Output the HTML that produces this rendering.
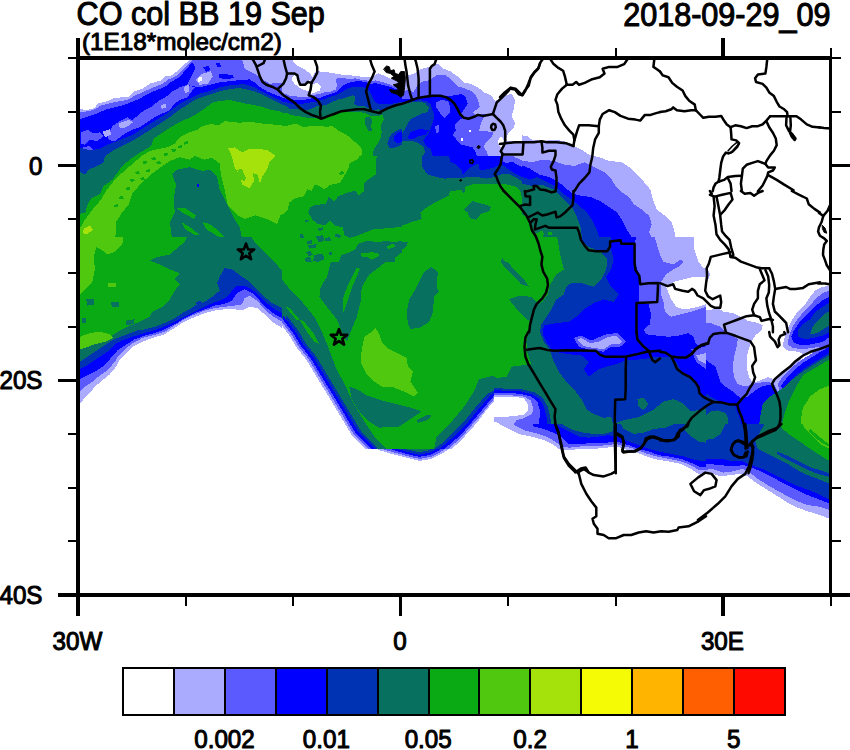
<!DOCTYPE html>
<html lang="en">
<head>
<meta charset="utf-8">
<title>CO col BB 19 Sep</title>
<style>
html,body{margin:0;padding:0;background:#fff;}
body{width:850px;height:750px;overflow:hidden;font-family:"Liberation Sans",sans-serif;}
svg{display:block;}
</style>
</head>
<body>
<svg width="850" height="750" viewBox="0 0 850 750">
<rect x="0" y="0" width="850" height="750" fill="#ffffff"/>
<defs><clipPath id="plotclip"><rect x="78.0" y="58.0" width="752.5" height="537.0"/></clipPath></defs>
<g clip-path="url(#plotclip)">
<clipPath id="t0"><rect x="70" y="50" width="212" height="187"/></clipPath>
<g clip-path="url(#t0)" shape-rendering="crispEdges">
<polygon fill="#aaaaff" points="65.0,109.9 81.2,109.4 87.5,109.9 94.9,107.9 97.4,103.6 107.4,101.1 114.9,97.9 128.6,96.9 134.8,91.2 142.3,88.7 149.8,83.7 161.0,80.4 164.8,76.2 172.3,75.4 179.7,68.7 185.2,63.7 191.0,59.0 294.5,59.0 294.5,249.5 65.0,249.5"/>
<polygon fill="#5a5aff" points="65.0,112.9 81.2,112.4 93.7,109.9 101.2,105.4 113.6,102.4 127.4,99.9 135.3,95.4 144.8,91.2 152.3,87.9 162.8,83.7 168.5,79.4 176.0,76.2 182.2,70.5 187.2,65.5 193.5,59.0 294.5,59.0 294.5,249.5 65.0,249.5"/>
<polygon fill="#0000ff" points="65.0,120.3 80.0,119.3 87.5,116.8 94.9,114.3 104.9,109.9 112.4,107.9 119.9,106.1 127.4,103.6 133.6,101.1 139.8,98.6 144.8,95.4 152.3,91.9 157.3,89.9 164.8,86.9 169.8,82.9 174.8,79.9 179.7,76.9 183.5,72.4 187.2,68.7 189.7,65.0 192.7,62.5 195.2,68.0 191.0,77.4 187.2,84.9 199.7,87.4 209.7,84.9 219.6,82.4 229.6,81.2 242.1,79.9 249.6,79.4 254.6,82.4 259.6,86.9 267.0,91.4 282.0,97.4 294.5,98.6 294.5,249.5 65.0,249.5"/>
<polygon fill="#5a5aff" points="107.4,137.8 112.4,126.1 119.9,121.1 127.4,117.3 132.4,120.3 141.1,112.4 152.3,106.1 159.8,99.9 167.3,96.1 172.3,91.2 179.7,87.4 187.2,84.9 194.7,87.4 187.2,97.4 179.7,99.9 174.8,103.6 169.8,109.9 162.3,113.6 154.8,117.3 147.3,122.3 139.8,127.3 132.4,129.8 124.9,133.6 119.9,137.3 114.9,141.0 109.9,140.3"/>
<polygon fill="#5a5aff" points="81.2,132.3 87.5,129.8 93.7,133.6 99.9,132.3 103.7,136.0 97.4,141.0 90.0,139.8 85.0,144.8 81.2,143.5"/>
<polygon fill="#5a5aff" points="82.5,147.3 90.0,146.0 93.7,149.8 87.5,154.8 82.5,153.5"/>
<polygon fill="#0000ff" points="203.4,67.5 208.4,65.5 210.2,70.0 205.9,71.9"/>
<polygon fill="#0000ff" points="215.9,63.0 219.6,62.5 220.9,66.5 217.2,67.0"/>
<polygon fill="#0000ff" points="219.6,73.7 232.1,74.9 234.6,77.9 224.6,79.4 219.1,77.4"/>
<polygon fill="#aaaaff" points="196.0,79.9 202.2,73.7 210.9,71.4 212.7,76.9 207.7,83.7 199.7,84.9"/>
<polygon fill="#aaaaff" points="242.1,59.0 294.5,59.0 294.5,81.9 269.5,83.7 263.3,79.9 254.6,73.7 244.6,68.7"/>
<polygon fill="#aaaaff" points="118.6,123.6 128.6,119.8 132.9,122.3 126.1,127.3 119.9,128.6"/>
<polygon fill="#aaaaff" points="102.4,131.8 109.9,129.3 111.2,134.8 104.9,137.3"/>
<polygon fill="#aaaaff" points="183.5,87.4 188.5,84.9 189.2,91.2 185.2,93.6"/>
<polygon fill="#aaaaff" points="161.0,105.4 166.0,103.6 166.0,107.9 161.8,108.9"/>
<polygon fill="#ffffff" points="197.7,77.9 202.2,76.9 201.7,81.2 198.2,81.7"/>
<polygon fill="#0032b4" points="65.0,148.5 80.0,147.8 90.0,150.3 99.9,148.8 107.4,144.8 119.9,139.8 132.4,134.8 144.8,127.3 152.3,122.3 164.8,114.8 174.8,107.4 179.7,103.6 189.7,98.6 199.7,93.6 209.7,91.2 219.6,87.4 232.1,84.9 244.6,84.2 254.6,87.4 264.5,92.9 282.0,101.1 294.5,102.4 294.5,249.5 65.0,249.5"/>
<polygon fill="#08705f" points="65.0,172.7 80.0,172.2 85.0,174.7 88.7,169.7 97.4,166.0 103.7,162.2 104.9,156.0 112.4,151.0 122.4,146.0 132.4,141.0 142.3,134.8 152.3,128.6 162.3,122.3 169.8,117.3 177.2,111.1 187.2,104.9 194.7,99.9 204.7,96.1 214.7,92.9 224.6,89.9 239.6,87.9 254.6,91.2 267.0,96.9 282.0,104.4 294.5,105.4 294.5,249.5 65.0,249.5"/>
<polygon fill="#0aaa14" points="65.0,214.6 80.0,213.9 85.5,212.4 87.0,205.4 91.2,198.4 99.7,194.2 103.9,185.7 112.4,179.9 119.9,169.2 124.9,163.5 134.8,156.0 144.8,149.8 151.1,146.0 153.6,138.5 164.8,131.1 174.8,124.8 184.7,119.8 194.7,115.3 204.7,108.6 213.4,101.9 229.6,99.9 244.6,103.4 259.6,106.1 269.5,109.4 282.0,111.9 294.5,112.4 294.5,249.5 65.0,249.5"/>
<polygon fill="#50c80f" points="65.0,230.1 80.0,228.3 85.0,219.6 94.9,206.6 100.9,199.9 105.2,192.4 110.4,184.9 117.9,176.5 125.4,170.0 133.8,162.7 142.6,155.3 150.1,151.0 157.3,149.3 167.3,147.3 174.8,143.5 179.7,137.3 189.7,132.3 197.2,129.8 202.2,126.1 209.7,124.3 219.6,124.8 224.6,121.1 239.6,122.8 249.6,121.6 259.6,123.3 282.0,125.3 294.5,125.8 294.5,249.5 65.0,249.5"/>
<polygon fill="#0aaa14" points="114.9,249.5 116.1,222.1 122.4,212.1 128.6,204.6 132.4,193.4 142.3,182.2 152.3,173.5 162.3,166.0 169.8,161.0 179.7,157.2 189.7,159.7 194.7,156.0 204.7,159.7 212.2,157.7 219.6,163.5 220.9,174.7 224.6,189.7 227.6,204.6 238.1,215.4 245.3,218.9 255.8,215.4 266.5,218.9 277.0,224.1 280.5,215.4 287.5,211.6 294.5,209.6 294.5,249.5"/>
<polygon fill="#08705f" points="173.5,249.5 169.8,222.1 174.8,212.1 173.5,199.6 176.0,184.7 172.3,174.7 177.2,169.7 189.7,167.2 202.2,171.0 209.7,169.7 217.2,177.2 219.6,189.7 224.6,199.6 229.6,209.6 234.6,219.6 239.6,227.1 244.6,249.5"/>
<polygon fill="#0000ff" points="196.5,184.2 198.9,184.2 198.9,187.2 196.5,187.2"/>
<polygon fill="#a5e10a" points="228.4,148.5 234.6,147.3 242.1,152.3 249.6,148.5 267.0,149.8 275.8,156.0 269.5,162.2 267.0,169.7 262.0,177.2 259.6,184.7 254.6,179.7 249.6,188.4 242.1,184.7 239.6,174.7 234.6,167.2 232.1,157.2"/>
<polygon fill="#a5e10a" points="83.7,228.3 90.0,225.8 92.9,229.6 87.5,234.1 83.0,233.3"/>
<polygon fill="#0aaa14" points="176.5,208.1 185.2,208.1 196.0,215.4 194.2,218.9 183.5,213.4"/>
<polygon fill="#0aaa14" points="202.9,222.3 209.9,224.1 218.9,231.1 227.6,240.1 231.1,243.5 225.9,242.5 215.2,234.6 206.4,229.3"/>
<polygon fill="#0aaa14" points="181.7,222.3 190.5,227.6 199.4,234.6 196.0,235.6 185.2,229.3"/>
<polygon fill="#50c80f" points="237.4,170.2 241.6,168.5 246.1,178.2 244.3,181.7 239.8,178.2"/>
<polygon fill="#50c80f" points="253.1,173.0 257.6,174.7 260.3,185.2 255.8,188.7 254.1,181.7"/>
<polygon fill="#0aaa14" points="142.6,161.5 146.6,160.5 147.3,163.2 143.3,164.0"/>
<polygon fill="#0aaa14" points="151.3,158.0 155.3,157.0 156.0,159.7 152.1,160.5"/>
<polygon fill="#0aaa14" points="135.1,172.0 139.1,171.0 139.8,173.7 135.8,174.5"/>
<polygon fill="#0aaa14" points="156.3,162.0 160.3,161.0 161.0,163.7 157.0,164.5"/>
<polygon fill="#0aaa14" points="130.1,179.4 134.1,178.4 134.8,181.2 130.9,181.9"/>
<polygon fill="#0aaa14" points="125.6,187.9 129.6,186.9 130.4,189.7 126.4,190.4"/>
<polygon fill="#0aaa14" points="163.8,153.5 167.8,152.5 168.5,155.3 164.5,156.0"/>
<polygon fill="#0aaa14" points="171.3,149.5 175.3,148.5 176.0,151.3 172.0,152.0"/>
<polygon fill="#0aaa14" points="145.6,170.0 149.6,169.0 150.3,171.7 146.3,172.5"/>
<polygon fill="#0aaa14" points="118.9,196.9 122.9,195.9 123.6,198.6 119.6,199.4"/>
<polygon fill="#0aaa14" points="113.9,205.1 117.9,204.1 118.6,206.9 114.6,207.6"/>
<polygon fill="#0aaa14" points="140.1,177.9 144.1,177.0 144.8,179.7 140.8,180.4"/>
<polygon fill="#0aaa14" points="177.5,146.0 181.5,145.0 182.2,147.8 178.2,148.5"/>
<polygon fill="#0aaa14" points="183.7,142.0 187.7,141.0 188.5,143.8 184.5,144.5"/>
<polygon fill="#0aaa14" points="158.8,168.5 162.8,167.5 163.5,170.2 159.5,171.0"/>
</g>
<clipPath id="t1"><rect x="70" y="237" width="212" height="187"/></clipPath>
<g clip-path="url(#t1)" shape-rendering="crispEdges">
<polygon fill="#aaaaff" points="65.0,232.0 294.5,232.0 294.5,336.8 282.0,328.0 272.0,321.8 264.5,314.3 257.1,308.1 249.6,306.8 242.1,310.6 234.6,309.3 224.6,309.3 214.7,310.6 204.7,313.1 192.2,318.1 182.2,323.0 172.3,329.3 164.8,334.3 152.3,338.0 142.3,341.8 132.4,346.7 124.9,354.2 119.9,359.2 116.1,366.7 109.9,374.2 102.4,380.4 94.9,386.6 90.0,392.9 83.7,399.1 80.0,404.1 65.0,404.1"/>
<polygon fill="#5a5aff" points="65.0,232.0 294.5,232.0 294.5,329.3 282.0,321.8 272.0,315.6 264.5,309.3 257.1,300.6 249.6,295.6 244.6,298.1 242.1,304.3 234.6,305.6 224.6,306.8 214.7,308.1 204.7,310.6 192.2,315.6 182.2,320.6 172.3,326.8 164.8,331.8 152.3,335.5 142.3,338.0 131.1,344.2 123.6,350.5 118.6,355.5 114.9,361.7 107.4,370.4 99.9,375.4 92.4,381.7 85.0,386.6 80.0,391.6 65.0,391.6"/>
<polygon fill="#0000ff" points="65.0,232.0 294.5,232.0 294.5,324.3 282.0,318.1 274.5,314.3 267.0,308.1 259.6,300.6 252.1,293.1 244.6,289.4 237.1,293.1 232.1,300.6 224.6,303.8 214.7,305.6 204.7,309.3 194.7,313.1 184.7,318.1 174.8,324.3 164.8,329.3 154.8,333.0 144.8,335.5 134.8,339.3 124.9,345.5 117.4,350.5 109.9,359.2 102.4,366.7 94.9,371.7 87.5,375.4 80.0,379.2 65.0,379.2"/>
<polygon fill="#0032b4" points="65.0,232.0 294.5,232.0 294.5,319.3 282.0,313.1 274.5,309.3 267.0,303.1 259.6,295.6 252.1,289.4 244.6,285.6 237.1,285.6 232.1,290.6 227.1,296.9 219.6,300.6 209.7,304.3 199.7,309.3 189.7,314.3 179.7,319.3 169.8,324.3 157.3,329.3 144.8,333.0 132.4,336.8 122.4,340.5 114.9,344.2 107.4,351.7 99.9,356.7 92.4,361.7 85.0,366.7 80.0,369.2 65.0,369.2"/>
<polygon fill="#08705f" points="65.0,232.0 294.5,232.0 294.5,314.3 282.0,308.1 272.0,303.1 264.5,296.9 257.1,289.4 249.6,281.9 242.1,276.9 232.1,269.4 224.6,268.2 219.6,276.9 217.2,283.1 219.6,290.6 212.2,296.9 204.7,301.8 197.2,304.3 189.7,309.3 182.2,313.1 174.8,318.1 164.8,323.0 154.8,326.8 144.8,329.3 137.3,330.5 127.4,334.3 117.4,338.0 109.9,341.8 102.4,346.7 94.9,351.7 87.5,356.7 80.0,361.7 65.0,361.7"/>
<polygon fill="#0032b4" points="196.0,302.3 200.9,300.6 202.2,303.8 197.2,305.6"/>
<polygon fill="#0aaa14" points="65.0,232.0 189.7,232.0 184.7,242.0 177.2,248.2 169.8,254.5 157.3,257.0 149.8,260.7 159.8,264.4 169.8,269.4 179.7,273.2 174.8,279.4 179.7,284.4 174.8,290.6 169.8,299.4 162.3,306.8 152.3,311.8 149.8,316.8 139.8,321.8 129.9,325.5 119.9,330.5 109.9,336.8 99.9,341.8 90.0,344.2 80.0,349.2 65.0,351.7"/>
<polygon fill="#0aaa14" points="248.3,232.0 254.6,242.0 264.5,252.0 274.5,261.9 282.0,270.7 294.5,281.9 294.5,232.0"/>
<polygon fill="#50c80f" points="65.0,232.0 123.6,232.0 122.4,244.5 114.9,252.0 107.4,254.5 101.2,249.5 96.2,247.0 93.7,257.0 94.9,269.4 92.4,281.9 85.0,289.4 80.0,294.4 65.0,296.9"/>
<polygon fill="#50c80f" points="80.0,336.8 90.0,333.0 99.9,331.8 109.9,334.3 113.6,338.0 104.9,341.8 94.9,344.2 85.0,348.0 80.0,349.2"/>
<polygon fill="#08705f" points="86.2,299.4 93.7,298.9 94.4,304.8 87.5,305.6"/>
<polygon fill="#08705f" points="111.2,302.3 118.6,301.8 118.6,306.8 111.9,307.3"/>
<polygon fill="#08705f" points="82.0,318.1 85.5,318.1 85.5,323.0 82.0,323.0"/>
<polygon fill="#08705f" points="126.1,320.6 134.8,319.3 133.6,324.3 126.1,324.8"/>
<polygon fill="#50c80f" points="107.4,283.1 116.1,282.6 116.1,286.9 108.7,287.4"/>
<polygon fill="#0aaa14" points="169.8,244.5 177.2,242.0 179.7,247.0 172.3,249.5"/>
</g>
<clipPath id="t2"><rect x="494" y="237" width="212" height="187"/></clipPath>
<g clip-path="url(#t2)" shape-rendering="crispEdges">
<polygon fill="#08705f" points="489.0,232.0 718.5,232.0 718.5,436.5 489.0,436.5"/>
<polygon fill="#0aaa14" points="489.0,232.0 556.4,232.0 558.8,247.0 561.3,259.4 563.8,269.4 556.4,274.4 550.1,284.4 547.6,294.4 542.6,301.8 536.4,304.3 533.9,311.8 531.4,321.8 528.9,331.8 526.4,341.8 527.7,354.2 531.4,364.2 521.4,365.4 511.5,366.7 506.5,376.7 499.0,377.9 489.0,376.7"/>
<polygon fill="#08705f" points="499.0,258.2 505.2,259.4 514.0,269.4 523.9,279.4 528.9,286.9 521.4,284.4 511.5,274.4 504.0,266.9"/>
<polygon fill="#08705f" points="509.0,299.4 518.9,295.6 531.4,296.9 537.6,303.1 533.9,311.8 531.4,321.8 526.4,319.3 518.9,311.8 514.0,305.6"/>
<polygon fill="#0032b4" points="580.0,232.0 581.3,239.5 588.8,247.0 601.2,252.0 607.5,259.4 606.2,269.4 601.2,279.4 593.8,286.9 581.3,283.1 571.3,283.1 566.3,286.9 563.8,294.4 556.4,299.4 551.4,309.3 546.4,316.8 541.4,324.3 540.1,331.8 543.9,341.8 550.1,350.5 553.9,361.7 558.8,371.7 566.3,381.7 573.8,389.1 581.3,399.1 586.3,409.1 593.8,414.1 603.7,417.8 611.2,416.6 613.7,426.6 613.7,436.5 718.5,436.5 718.5,232.0"/>
<polygon fill="#0000ff" points="611.2,232.0 611.2,249.5 613.7,259.4 611.2,269.4 606.2,276.9 611.2,286.9 618.7,294.4 613.7,301.8 603.7,299.4 593.8,303.1 583.8,309.3 576.3,316.8 568.8,321.8 556.4,323.0 543.9,325.5 542.6,334.3 547.6,344.2 553.9,351.7 568.8,354.2 581.3,355.5 588.8,361.7 583.8,369.2 588.8,376.7 598.8,369.2 606.2,366.7 616.2,364.2 626.2,360.5 643.6,359.2 656.1,356.7 668.6,356.7 676.1,361.7 681.1,371.7 688.5,376.7 696.0,384.2 701.0,394.1 706.0,396.6 718.5,399.1 718.5,232.0"/>
<polygon fill="#5a5aff" points="636.2,232.0 634.9,247.0 633.7,259.4 637.4,269.4 641.2,279.4 638.7,286.9 638.7,301.8 648.6,304.3 651.1,314.3 649.9,324.3 643.6,329.3 646.1,334.3 656.1,335.5 668.6,336.8 678.6,335.5 688.5,333.0 693.5,336.8 696.0,344.2 706.0,346.7 718.5,349.2 718.5,232.0"/>
<polygon fill="#aaaaff" points="653.6,232.0 657.4,247.0 659.9,254.5 663.6,261.9 673.6,264.4 681.1,259.4 683.6,261.9 678.6,266.9 673.6,269.4 666.1,274.4 661.1,281.9 661.1,294.4 663.6,301.8 664.8,311.8 671.1,316.8 681.1,314.3 691.0,311.8 698.5,309.3 706.0,306.8 718.5,305.6 718.5,232.0"/>
<polygon fill="#ffffff" points="693.5,232.0 693.5,247.0 698.5,261.9 703.5,268.2 718.5,268.9 718.5,232.0"/>
<polygon fill="#ffffff" points="666.1,286.9 673.6,281.9 683.6,279.4 693.5,276.9 706.0,276.9 718.5,278.2 718.5,301.8 706.0,304.3 693.5,308.1 683.6,309.3 676.1,306.8 671.1,299.4 668.6,293.1"/>
<polygon fill="#5a5aff" points="691.0,349.2 706.0,346.7 718.5,346.7 718.5,371.7 706.0,369.2 696.0,361.7"/>
<polygon fill="#aaaaff" points="696.0,355.5 706.0,353.0 718.5,353.0 718.5,365.4 706.0,364.2 698.5,360.5"/>
<polygon fill="#5a5aff" points="573.8,338.0 581.3,335.5 591.3,340.5 606.2,334.3 617.5,333.0 626.2,341.8 620.0,346.7 611.2,346.7 603.7,351.7 591.3,350.5 578.8,346.7"/>
<polygon fill="#aaaaff" points="577.6,339.8 581.3,338.0 590.0,343.0 598.8,341.8 608.7,336.8 616.2,336.0 622.4,341.8 618.7,344.2 611.2,344.2 603.7,349.2 593.8,348.0 583.8,346.2"/>
<polygon fill="#0032b4" points="489.0,388.1 506.5,388.6 521.4,389.1 533.9,392.1 542.6,397.9 547.6,406.6 550.1,416.6 551.4,424.1 551.4,436.5 489.0,436.5"/>
<polygon fill="#0000ff" points="489.0,390.1 504.0,390.6 518.9,391.1 531.4,394.1 539.4,398.6 543.9,406.6 546.4,416.6 547.6,424.1 547.6,436.5 489.0,436.5"/>
<polygon fill="#5a5aff" points="489.0,392.6 504.0,393.1 518.9,393.6 531.4,396.6 537.6,402.1 540.1,411.6 538.9,424.1 538.9,436.5 489.0,436.5"/>
<polygon fill="#aaaaff" points="489.0,394.6 509.0,395.1 523.9,396.6 530.9,400.4 533.4,409.1 531.4,414.6 523.9,418.1 516.4,420.3 514.0,424.1 512.7,436.5 489.0,436.5"/>
<polygon fill="#ffffff" points="489.0,396.6 509.0,396.6 523.9,397.9 527.7,404.1 528.4,410.3 523.9,414.6 514.0,416.1 501.5,417.1 489.0,417.1"/>
<polygon fill="#ffffff" points="489.0,421.6 499.0,422.8 501.5,426.6 501.5,436.5 489.0,436.5"/>
<polygon fill="#08705f" points="611.2,436.5 616.2,422.8 623.7,420.3 638.7,417.1 653.6,409.6 663.6,401.6 673.6,399.1 683.6,403.6 691.0,411.6 701.0,409.6 706.0,409.1 718.5,409.1 718.5,436.5"/>
<polygon fill="#08705f" points="637.4,399.1 643.6,397.9 648.6,404.1 643.6,410.3 638.7,406.6"/>
</g>
<clipPath id="t3"><rect x="282" y="50" width="120" height="106"/></clipPath>
<g clip-path="url(#t3)" shape-rendering="crispEdges">
<polygon fill="#aaaaff" points="279.2,58.5 292.6,58.5 293.3,62.0 297.5,65.5 304.6,69.1 309.6,73.3 312.4,76.9 314.5,72.6 317.3,71.2 323.0,71.9 330.1,72.6 338.5,74.3 349.8,75.2 361.1,76.6 369.6,77.1 373.9,76.1 378.1,73.3 383.8,75.4 389.4,78.3 395.1,80.4 402.1,81.8 409.2,83.9 409.2,163.1 279.2,163.1"/>
<polygon fill="#ffffff" points="292.6,76.9 295.4,74.7 298.3,78.3 300.4,83.2 303.2,84.6 306.7,83.2 309.6,80.4 311.0,85.3 309.6,91.0 304.6,90.3 299.0,87.5 294.7,83.9 291.9,80.4"/>
<polygon fill="#ffffff" points="312.4,83.9 317.3,83.2 320.9,86.0 320.2,90.3 315.2,92.4 311.0,93.8 310.3,89.6"/>
<polygon fill="#5a5aff" points="279.2,92.4 284.8,93.8 290.5,95.9 297.5,96.6 304.6,97.3 310.3,95.9 315.9,94.5 320.2,93.8 324.4,92.4 330.1,91.7 335.7,89.6 337.1,85.3 335.7,79.7 338.5,77.6 344.2,78.3 349.8,79.0 355.5,78.3 361.1,79.7 366.8,80.4 370.3,81.8 372.5,81.1 375.3,80.4 380.9,81.8 386.6,83.2 393.7,86.0 402.1,88.9 409.2,90.3 409.2,163.1 279.2,163.1"/>
<polygon fill="#0000ff" points="279.2,97.3 286.2,98.8 293.3,99.5 299.0,100.2 304.6,99.7 310.3,98.8 315.9,97.3 320.2,98.1 324.4,95.9 330.1,94.1 335.7,92.4 338.5,89.6 342.8,85.3 348.4,82.8 355.5,81.4 361.1,81.4 366.8,82.5 371.0,83.9 375.3,83.2 380.9,84.6 388.0,86.0 395.1,88.9 402.1,91.0 409.2,92.4 409.2,163.1 279.2,163.1"/>
<polygon fill="#0032b4" points="279.2,101.6 287.7,102.6 294.7,104.4 300.4,104.4 306.0,103.0 311.7,102.3 317.3,101.6 323.0,99.5 328.6,97.3 335.7,95.2 341.4,92.4 347.0,88.9 352.7,87.0 358.3,86.5 364.0,87.5 366.8,88.9 369.6,91.0 372.5,96.6 375.3,102.3 380.9,104.4 388.0,104.4 395.1,103.0 402.1,101.6 409.2,100.9 409.2,163.1 279.2,163.1"/>
<polygon fill="#08705f" points="279.2,104.4 286.2,105.8 290.5,109.4 297.5,108.7 303.2,110.1 310.3,109.4 315.9,106.5 321.6,105.8 327.2,104.4 332.9,101.6 338.5,99.5 344.2,98.1 348.4,96.6 352.7,95.2 355.5,96.6 354.1,103.7 358.3,106.5 364.0,105.8 368.2,107.9 372.5,110.1 378.1,109.4 383.8,110.1 389.4,108.7 395.1,106.5 402.1,104.4 409.2,103.7 409.2,163.1 279.2,163.1"/>
<polygon fill="#0aaa14" points="279.2,112.2 286.2,112.9 291.9,115.3 299.0,116.1 306.0,117.6 313.1,117.8 321.6,117.6 327.2,116.4 332.9,113.6 338.5,111.9 344.2,111.1 349.8,112.2 355.5,111.5 361.1,112.2 366.8,113.6 371.0,116.4 378.1,115.7 383.1,115.3 383.8,119.3 380.9,124.9 381.6,132.0 380.9,137.6 378.1,143.3 373.9,148.9 372.5,156.0 372.5,163.1 279.2,163.1"/>
<polygon fill="#08705f" points="365.4,117.8 369.6,116.4 372.5,120.7 371.0,126.3 372.5,130.6 368.2,130.6 364.7,123.5"/>
<polygon fill="#50c80f" points="279.2,126.0 287.7,125.6 296.1,123.5 303.2,127.0 310.3,126.3 318.7,125.6 327.2,127.0 331.5,125.6 338.5,130.6 344.2,133.4 348.4,136.2 352.7,140.5 356.9,143.3 361.1,147.5 362.6,151.8 361.1,156.0 361.1,163.1 279.2,163.1"/>
<polygon fill="#0032b4" points="409.2,127.0 402.1,128.4 396.5,130.6 392.2,133.4 389.4,137.6 387.3,143.3 389.4,147.5 395.1,147.5 402.1,144.7 409.2,143.3"/>
<polygon fill="#0000ff" points="409.2,130.6 402.1,131.3 397.9,132.7 394.4,136.2 393.7,140.5 396.5,143.3 402.1,141.9 409.2,140.5"/>
</g>
<clipPath id="t4"><rect x="402" y="50" width="120" height="106"/></clipPath>
<g clip-path="url(#t4)" shape-rendering="crispEdges">
<polygon fill="#aaaaff" points="399.2,78.3 406.2,79.7 408.4,75.4 414.7,73.3 420.4,69.1 428.9,67.0 432.4,64.8 438.7,64.1 443.0,68.4 450.1,71.2 458.5,76.9 464.2,82.5 471.3,83.9 478.3,87.5 484.0,92.4 491.0,95.2 495.3,100.9 499.5,99.5 506.6,95.2 512.2,93.8 515.1,100.9 513.7,109.4 511.5,116.4 515.1,123.5 512.9,129.1 508.0,133.4 505.9,140.5 529.2,140.5 529.2,163.1 399.2,163.1"/>
<polygon fill="#ffffff" points="498.8,138.3 501.6,136.9 504.0,140.5 503.1,146.1 500.2,147.5 498.1,143.3"/>
<polygon fill="#5a5aff" points="399.2,91.0 409.1,90.3 413.3,92.4 417.5,85.3 421.8,81.8 428.9,80.4 432.4,78.3 435.9,75.4 444.4,74.7 450.1,78.3 454.3,82.5 458.5,86.7 464.2,88.2 471.3,91.0 475.5,95.2 478.3,100.9 479.7,106.5 476.9,109.4 472.7,112.2 475.5,115.0 481.1,113.6 486.8,114.3 482.6,119.3 480.4,124.9 479.0,130.6 486.8,131.3 493.9,132.7 491.0,137.6 486.8,141.9 483.3,146.1 486.8,151.8 488.2,156.0 488.2,163.1 399.2,163.1"/>
<polygon fill="#ffffff" points="469.1,129.9 471.0,129.9 471.0,132.0 469.1,132.0"/>
<polygon fill="#ffffff" points="461.4,138.3 463.1,138.3 463.1,141.2 461.4,141.2"/>
<polygon fill="#0000ff" points="399.2,98.8 410.5,98.8 417.5,97.3 424.6,95.9 437.3,95.2 448.6,95.9 455.7,95.2 461.4,93.8 465.6,96.6 467.7,103.7 464.2,109.4 461.4,113.6 462.8,117.8 458.5,120.7 455.0,124.9 455.7,130.6 452.9,134.8 457.1,140.5 461.4,144.7 467.0,146.1 472.7,147.5 475.5,151.8 476.9,156.0 476.9,163.1 399.2,163.1"/>
<polygon fill="#5a5aff" points="435.9,102.3 443.0,99.5 449.3,102.3 450.1,112.2 444.4,117.8 440.2,113.6 435.9,106.5"/>
<polygon fill="#5a5aff" points="435.2,126.3 438.7,124.9 439.5,132.0 435.9,133.4"/>
<polygon fill="#0032b4" points="399.2,101.6 410.5,101.6 419.0,100.2 426.0,100.9 430.3,103.7 432.4,109.4 434.5,116.4 432.4,123.5 430.3,129.1 427.4,134.8 423.2,140.5 426.0,146.1 430.3,148.9 433.1,156.0 433.1,163.1 399.2,163.1"/>
<polygon fill="#0000ff" points="410.5,132.0 419.0,129.1 428.9,129.9 426.0,134.8 419.0,136.2 413.3,139.0 407.7,138.3"/>
<polygon fill="#08705f" points="399.2,103.0 410.5,102.6 419.0,101.6 425.3,103.0 428.9,107.9 427.4,112.2 421.8,113.6 416.1,116.4 410.5,119.3 407.7,123.5 404.8,129.1 402.0,133.4 399.2,134.8"/>
<polygon fill="#08705f" points="399.2,141.9 407.7,140.5 416.1,141.9 423.2,146.1 425.3,151.8 423.2,156.0 423.2,163.1 399.2,163.1"/>
</g>
<clipPath id="t5"><rect x="282" y="156" width="120" height="106"/></clipPath>
<g clip-path="url(#t5)" shape-rendering="crispEdges">
<polygon fill="#0aaa14" points="279.2,153.2 409.2,153.2 409.2,269.1 279.2,269.1"/>
<polygon fill="#50c80f" points="279.2,153.2 361.1,153.2 358.3,158.8 349.8,163.1 348.4,168.7 344.2,175.8 339.9,182.9 330.1,185.0 324.4,189.2 318.7,185.7 314.5,185.0 311.7,190.6 307.4,189.2 303.2,197.0 296.1,197.7 289.1,202.6 287.7,209.7 283.4,213.9 279.2,213.9"/>
<polygon fill="#0aaa14" points="339.2,173.7 342.1,170.1 344.2,173.0 341.4,175.1"/>
<polygon fill="#08705f" points="376.7,153.2 376.0,174.4 369.6,178.6 364.0,182.9 364.0,191.3 358.3,195.6 355.5,190.6 347.0,192.7 338.5,196.3 334.3,201.2 328.6,197.0 325.8,204.1 315.9,204.8 310.3,207.6 308.1,212.5 312.4,219.6 317.3,223.8 325.8,225.3 330.1,220.3 334.3,225.3 342.8,227.4 344.2,235.1 349.8,238.0 356.9,235.9 364.0,233.0 372.5,229.5 380.9,228.8 389.4,228.1 402.1,226.7 409.2,226.7 409.2,153.2"/>
<polygon fill="#08705f" points="335.7,269.1 341.4,254.9 349.8,252.1 355.5,249.3 358.3,243.6 366.8,240.8 378.1,242.2 386.6,240.8 393.7,242.2 402.1,240.8 409.2,240.8 409.2,269.1"/>
<polygon fill="#0aaa14" points="361.1,253.5 372.5,252.1 378.1,253.5 369.6,257.8 361.1,256.3"/>
<polygon fill="#0aaa14" points="386.6,246.5 393.7,243.6 395.1,246.5 388.0,249.3"/>
<polygon fill="#0aaa14" points="393.7,269.1 395.1,257.8 402.1,252.1 409.2,250.7 409.2,269.1"/>
<polygon fill="#0aaa14" points="369.6,257.8 378.1,253.5 379.5,255.6 371.0,259.9"/>
<polygon fill="#08705f" points="315.9,236.6 323.0,235.1 324.4,240.8 318.7,242.2"/>
<polygon fill="#08705f" points="307.4,240.8 312.4,240.1 312.4,243.6 307.4,244.3"/>
<polygon fill="#08705f" points="300.4,234.4 303.2,234.4 303.9,238.0 300.4,238.0"/>
<polygon fill="#08705f" points="306.0,252.1 310.3,250.7 313.1,254.9 308.9,256.3"/>
<polygon fill="#08705f" points="314.5,254.9 323.0,253.5 324.4,259.2 317.3,262.0 313.1,260.6"/>
<polygon fill="#08705f" points="324.4,238.0 330.1,237.3 330.8,240.8 325.1,240.8"/>
<polygon fill="#08705f" points="304.6,257.8 310.3,257.1 311.7,262.0 306.0,262.0"/>
<polygon fill="#08705f" points="335.7,233.7 341.4,235.1 339.9,238.0 335.0,236.6"/>
<polygon fill="#08705f" points="308.1,245.0 316.6,244.3 315.9,247.9 308.9,248.6"/>
<polygon fill="#08705f" points="318.0,228.1 323.0,227.4 323.0,230.2 318.7,230.9"/>
<polygon fill="#08705f" points="328.6,252.1 332.2,252.1 332.2,254.9 328.6,254.9"/>
<polygon fill="#08705f" points="304.6,220.3 308.9,220.3 308.1,222.4 304.6,222.1"/>
</g>
<clipPath id="t6"><rect x="402" y="156" width="120" height="106"/></clipPath>
<g clip-path="url(#t6)" shape-rendering="crispEdges">
<polygon fill="#08705f" points="399.2,153.2 529.2,153.2 529.2,269.1 399.2,269.1"/>
<polygon fill="#0032b4" points="421.8,153.2 422.5,167.3 427.4,174.4 437.3,177.2 444.4,178.6 458.5,177.9 469.8,177.2 478.3,177.2 486.8,178.6 493.9,177.2 500.9,174.4 509.4,174.4 517.9,178.6 522.1,181.4 529.2,182.9 529.2,153.2"/>
<polygon fill="#0000ff" points="448.6,153.2 450.1,161.7 455.7,164.5 461.4,170.1 462.8,174.4 468.4,168.7 478.3,163.1 479.7,170.1 486.8,169.4 495.3,167.3 499.5,164.5 503.8,165.9 509.4,170.1 517.9,175.1 522.1,177.2 529.2,178.6 529.2,153.2"/>
<polygon fill="#5a5aff" points="501.6,153.2 503.1,161.7 506.6,163.1 512.2,161.7 519.3,165.9 522.1,167.3 529.2,168.7 529.2,153.2"/>
<polygon fill="#aaaaff" points="512.2,153.2 515.1,157.4 522.1,160.2 529.2,161.7 529.2,153.2"/>
<polygon fill="#0aaa14" points="399.2,226.7 410.5,222.4 421.8,218.9 420.4,212.5 427.4,206.9 437.3,201.2 448.6,195.6 450.1,191.3 461.4,189.9 464.2,194.2 465.6,186.4 475.5,183.6 486.8,184.3 498.1,184.3 506.6,184.3 515.1,186.4 520.0,189.9 522.1,198.4 529.2,199.8 529.2,269.1 399.2,269.1"/>
<polygon fill="#08705f" points="468.4,205.5 472.7,201.2 476.9,202.6 486.8,204.8 491.0,206.9 489.6,211.1 481.1,213.9 475.5,219.6 469.8,218.2 467.7,212.5 464.2,209.7"/>
<polygon fill="#08705f" points="399.2,242.2 407.7,242.2 406.2,246.5 399.2,252.1"/>
<polygon fill="#08705f" points="498.1,269.1 502.3,257.8 509.4,269.1"/>
</g>
<clipPath id="t7"><rect x="282" y="262" width="212" height="187"/></clipPath>
<g clip-path="url(#t7)" shape-rendering="crispEdges">
<polygon fill="#0aaa14" points="277.0,257.0 506.5,257.0 506.5,461.5 277.0,461.5"/>
<polygon fill="#08705f" points="277.0,277.0 282.0,279.5 292.0,291.9 304.4,304.4 314.4,316.9 321.9,331.8 328.1,346.8 335.6,366.8 344.4,384.2 354.3,404.2 364.3,421.6 374.3,436.6 386.8,449.1 401.7,454.0 399.2,461.5 277.0,461.5"/>
<polygon fill="#0aaa14" points="299.5,319.4 304.4,321.9 314.4,334.3 319.4,344.3 314.4,341.8 306.9,331.8"/>
<polygon fill="#0aaa14" points="285.7,306.9 289.5,308.1 299.5,319.4 297.0,320.6"/>
<polygon fill="#08705f" points="331.9,257.0 326.9,277.0 320.7,286.9 319.4,296.9 326.9,306.9 336.9,319.4 343.1,334.3 346.8,341.8 350.6,331.8 356.8,316.9 360.6,301.9 361.8,286.9 369.3,274.5 379.3,267.0 391.7,257.0"/>
<polygon fill="#0aaa14" points="356.8,267.0 359.8,269.5 352.3,286.9 347.3,301.9 343.6,313.1 342.6,299.4 348.1,284.4"/>
<polygon fill="#08705f" points="408.0,324.4 406.7,311.9 409.2,299.4 416.7,286.9 424.2,272.0 431.6,267.0 437.9,272.0 436.6,286.9 439.1,291.9 434.1,296.9 432.9,311.9 429.2,321.9 419.2,328.1 410.4,328.8"/>
<polygon fill="#08705f" points="349.3,386.7 356.8,389.2 366.8,395.4 381.8,400.4 396.7,404.2 411.7,407.9 421.7,411.6 414.2,416.6 406.7,421.6 399.2,426.6 386.8,426.6 379.3,427.9 369.3,421.6 359.3,411.6 351.8,399.2"/>
<polygon fill="#08705f" points="416.7,420.4 426.7,415.4 431.6,415.4 426.7,420.4 417.9,422.9"/>
<polygon fill="#50c80f" points="364.3,336.8 371.8,331.8 375.5,328.1 379.3,334.3 381.8,341.8 389.2,349.3 399.2,354.3 406.7,358.0 408.0,366.8 412.9,371.7 410.4,381.7 417.9,392.9 414.2,396.7 404.2,391.7 391.7,386.7 381.8,386.7 374.3,381.7 366.8,374.2 360.6,361.8 361.8,349.3"/>
<polygon fill="#08705f" points="479.0,379.2 494.0,375.5 506.5,374.2 506.5,461.5 431.6,461.5 436.6,436.6 451.6,421.6 464.1,406.7 474.0,391.7"/>
<polygon fill="#0032b4" points="434.1,449.1 444.1,441.6 454.1,431.6 464.1,421.6 474.0,409.2 481.5,400.4 489.0,392.9 494.0,390.4 506.5,388.0 506.5,461.5 431.6,461.5"/>
<polygon fill="#0000ff" points="439.1,449.1 446.6,442.8 456.6,434.1 466.6,424.1 476.5,411.6 484.0,402.9 490.3,395.4 494.0,392.9 506.5,390.4 506.5,461.5 436.6,461.5"/>
<polygon fill="#5a5aff" points="444.1,449.1 451.6,442.8 460.3,435.3 469.1,425.4 479.0,413.6 486.5,404.7 491.5,398.7 494.0,395.9 506.5,392.9 506.5,461.5 441.6,461.5"/>
<polygon fill="#aaaaff" points="447.9,449.1 456.6,441.6 465.3,432.8 472.8,424.1 481.5,414.1 488.5,405.4 494.0,398.7 506.5,395.4 506.5,461.5 445.4,461.5"/>
<polygon fill="#ffffff" points="451.6,449.1 460.3,441.1 469.1,431.6 477.8,421.6 485.3,411.6 491.5,403.7 494.0,401.2 506.5,397.9 506.5,461.5 449.1,461.5"/>
<polygon fill="#0032b4" points="286.0,314.9 291.0,321.1 298.5,331.1 305.9,343.6 315.9,356.0 323.4,368.5 330.9,381.0 338.4,393.4 345.8,405.9 353.3,418.4 360.8,430.9 370.8,440.8 377.0,447.1 381.8,461.5 277.0,461.5"/>
<polygon fill="#0000ff" points="283.5,316.1 288.5,322.4 296.0,332.3 303.4,344.8 313.4,357.3 320.9,369.7 328.4,382.2 335.9,394.7 343.4,407.2 350.8,419.6 358.3,432.1 368.3,442.1 374.5,448.3 379.3,461.5 277.0,461.5"/>
<polygon fill="#5a5aff" points="281.0,317.4 286.0,323.6 293.5,333.6 301.0,346.1 310.9,358.5 318.4,371.0 325.9,383.5 333.4,395.9 340.9,408.4 348.3,420.9 355.8,433.3 365.8,443.3 372.0,449.6 376.8,461.5 277.0,461.5"/>
<polygon fill="#aaaaff" points="279.0,318.4 284.0,324.6 291.5,334.6 299.0,347.0 308.9,359.5 316.4,372.0 323.9,384.5 331.4,396.9 338.9,409.4 346.3,421.9 353.8,434.3 363.8,444.3 370.0,450.6 374.3,461.5 277.0,461.5"/>
<polygon fill="#ffffff" points="277.0,319.4 282.0,325.6 289.5,335.6 297.0,348.0 306.9,360.5 314.4,373.0 321.9,385.5 329.4,397.9 336.9,410.4 344.4,422.9 351.8,435.3 361.8,445.3 368.0,451.6 368.0,461.5 277.0,461.5"/>
</g>
<clipPath id="t8"><rect x="282" y="449" width="212" height="162"/></clipPath>
<g clip-path="url(#t8)" shape-rendering="crispEdges">
<polygon fill="#aaaaff" points="345.6,419.0 349.3,429.0 356.8,437.7 366.8,445.2 379.3,450.2 391.7,453.9 406.7,457.7 419.2,460.9 431.6,458.9 441.6,453.9 449.1,448.9 454.1,439.0 461.6,431.5 469.1,424.0 471.6,419.0"/>
<polygon fill="#5a5aff" points="347.3,419.0 351.3,428.5 358.1,436.5 368.0,443.5 380.5,448.4 393.0,452.2 406.7,455.9 419.2,458.9 431.1,456.9 440.4,452.2 447.1,447.2 452.1,438.2 459.6,430.7 467.1,419.0"/>
<polygon fill="#0000ff" points="349.3,419.0 353.3,427.5 359.8,435.0 369.3,441.5 381.8,446.4 393.7,450.2 406.7,453.9 419.2,456.9 430.4,454.9 439.1,450.4 445.4,445.7 450.4,437.0 457.8,429.5 464.1,419.0"/>
<polygon fill="#0032b4" points="351.8,419.0 355.6,426.5 361.8,433.5 370.8,439.7 382.8,444.5 394.7,448.2 406.7,451.7 419.2,454.7 429.7,452.7 437.6,448.4 443.6,444.0 448.6,435.7 456.1,428.2 461.1,419.0"/>
<polygon fill="#08705f" points="354.3,419.0 357.8,425.2 363.8,431.7 372.3,437.7 383.8,442.5 395.5,446.2 406.7,449.4 419.2,452.2 428.7,450.4 436.1,446.4 441.6,442.2 446.6,434.5 454.1,427.0 457.8,419.0"/>
<polygon fill="#0aaa14" points="356.8,419.0 361.8,426.5 368.0,431.5 376.8,436.5 386.8,440.2 396.7,444.0 406.7,446.4 419.2,448.9 427.9,446.4 432.9,442.7 435.4,436.5 441.6,431.5 451.6,424.0 454.1,419.0"/>
</g>
<clipPath id="t9"><rect x="522" y="50" width="212" height="187"/></clipPath>
<g clip-path="url(#t9)" shape-rendering="crispEdges">
<polygon fill="#aaaaff" points="517.0,134.8 527.0,136.0 532.0,139.8 542.0,141.0 554.4,139.8 564.4,141.0 571.9,144.8 581.9,149.8 589.3,154.8 599.3,157.2 609.3,161.0 621.8,162.2 629.2,167.2 636.7,174.7 644.2,182.2 650.4,189.7 652.9,199.6 656.7,209.6 666.7,217.1 671.6,222.1 674.1,229.6 675.4,237.1 675.4,249.5 517.0,249.5"/>
<polygon fill="#5a5aff" points="517.0,159.7 532.0,162.2 542.0,159.7 554.4,161.0 564.4,164.7 574.4,166.0 584.4,162.2 594.3,167.2 604.3,172.2 611.8,179.7 615.5,185.9 621.8,192.2 629.2,197.2 634.2,204.6 641.7,209.6 649.2,215.9 651.7,224.6 649.2,232.1 651.7,237.1 651.7,249.5 517.0,249.5"/>
<polygon fill="#0000ff" points="517.0,163.5 529.5,168.5 539.5,174.7 549.4,177.2 554.4,179.7 561.9,184.7 571.9,193.4 581.9,195.9 591.8,197.2 601.8,202.1 609.3,207.1 616.8,212.1 621.8,219.6 626.8,229.6 631.7,237.1 631.7,249.5 517.0,249.5"/>
<polygon fill="#0032b4" points="517.0,174.7 529.5,179.7 537.0,177.2 546.9,182.2 556.9,187.2 564.4,194.7 571.9,199.6 579.4,205.9 586.8,212.1 591.8,219.6 596.8,229.6 599.3,237.1 599.3,249.5 517.0,249.5"/>
<polygon fill="#08705f" points="517.0,182.2 532.0,185.9 542.0,184.7 554.4,189.7 564.4,199.6 571.9,207.1 576.9,217.1 580.6,227.1 581.9,237.1 581.9,249.5 517.0,249.5"/>
<polygon fill="#0aaa14" points="517.0,212.1 527.0,217.1 532.0,224.6 534.5,237.1 534.5,249.5 517.0,249.5"/>
<polygon fill="#0aaa14" points="548.2,232.1 551.9,232.1 551.9,235.1 548.2,235.1"/>
<polygon fill="#0aaa14" points="536.0,233.1 543.0,230.6 543.9,234.1 542.5,237.6 536.5,237.6"/>
</g>
<clipPath id="t10"><rect x="706" y="237" width="144" height="187"/></clipPath>
<g clip-path="url(#t10)" shape-rendering="crispEdges">
<polygon fill="#aaaaff" points="700.4,309.3 710.3,309.8 717.8,308.1 724.0,311.8 732.8,313.1 740.3,316.8 747.7,320.6 757.7,323.0 762.7,325.5 761.5,330.5 755.2,335.5 751.5,341.8 747.7,351.7 746.5,366.7 749.0,376.7 752.7,382.9 760.2,380.4 767.7,377.2 773.9,379.2 777.7,386.6 782.7,396.6 785.2,411.6 787.6,436.5 700.4,436.5"/>
<polygon fill="#5a5aff" points="700.4,324.3 710.3,323.0 720.3,326.8 725.3,331.8 732.8,335.5 737.8,339.3 736.5,346.7 734.0,356.7 732.8,366.7 734.0,376.7 737.8,384.2 745.2,386.6 752.7,384.2 757.7,382.9 767.7,381.7 773.9,384.2 780.2,396.6 782.7,411.6 783.9,436.5 700.4,436.5"/>
<polygon fill="#0000ff" points="692.9,346.7 700.4,354.2 707.8,361.7 715.3,366.7 717.8,374.2 720.3,381.7 725.3,386.6 732.8,391.6 740.3,397.9 747.7,396.6 755.2,390.4 762.7,386.1 770.2,384.7 775.2,387.9 780.2,401.6 782.7,416.6 783.9,436.5 692.9,436.5"/>
<polygon fill="#0032b4" points="687.9,376.7 697.9,386.6 710.3,396.6 722.8,402.9 735.3,406.6 739.0,416.6 741.5,424.1 741.5,436.5 687.9,436.5"/>
<polygon fill="#aaaaff" points="700.4,261.9 706.6,266.9 710.3,274.4 707.8,280.6 700.4,281.9"/>
<polygon fill="#08705f" points="705.3,416.6 710.3,411.6 717.8,410.3 725.3,412.8 728.3,419.1 727.8,426.6 705.3,426.6"/>
<polygon fill="#aaaaff" points="862.5,284.4 830.0,285.6 822.6,286.9 815.1,290.6 810.1,296.9 805.1,304.3 797.6,311.8 792.6,319.3 787.6,329.3 783.9,339.3 782.7,346.7 787.6,350.5 797.6,351.7 803.9,354.2 797.6,359.2 790.1,366.7 780.2,374.2 772.7,380.4 777.7,391.6 782.7,406.6 785.2,436.5 862.5,436.5"/>
<polygon fill="#ffffff" points="797.6,359.2 805.1,354.2 812.6,352.2 810.1,356.2 802.6,359.7"/>
<polygon fill="#5a5aff" points="862.5,290.6 830.0,290.6 822.6,293.1 816.3,298.1 810.1,305.6 802.6,313.1 797.6,319.3 792.6,326.8 788.9,336.8 787.6,344.2 792.6,348.0 802.6,349.2 812.6,348.0 820.1,346.7 812.6,353.0 802.6,359.2 792.6,366.7 782.7,376.7 777.7,384.2 781.4,396.6 783.9,411.6 785.2,436.5 862.5,436.5"/>
<polygon fill="#0000ff" points="862.5,295.6 830.0,296.9 823.8,299.4 817.6,304.3 812.6,309.3 805.1,316.8 798.9,323.0 793.9,330.5 791.4,336.8 793.9,343.0 802.6,345.5 812.6,344.2 822.6,341.8 830.0,336.8 830.0,346.7 822.6,350.5 812.6,356.7 802.6,363.0 795.1,369.2 787.6,376.7 781.4,385.4 782.7,399.1 785.2,416.6 786.4,436.5 862.5,436.5"/>
<polygon fill="#0032b4" points="862.5,301.8 830.0,302.3 822.6,306.8 815.1,311.8 810.1,319.3 802.6,324.3 797.6,330.5 797.6,336.8 805.1,339.3 812.6,338.0 822.6,335.5 830.0,331.8 831.3,351.7 825.1,355.5 815.1,361.7 805.1,367.9 797.6,374.2 790.1,381.7 785.2,389.1 785.2,401.6 786.4,419.1 787.6,436.5 862.5,436.5"/>
<polygon fill="#08705f" points="757.7,436.5 760.2,416.6 762.7,404.1 770.2,396.6 777.7,391.6 785.2,386.6 792.6,379.2 802.6,371.7 812.6,365.4 822.6,359.2 831.3,354.2 831.3,324.3 825.1,328.0 817.6,333.0 810.1,334.3 812.6,326.8 818.8,319.3 825.1,313.1 831.3,310.6 862.5,309.3 862.5,436.5"/>
<polygon fill="#0aaa14" points="778.9,436.5 781.4,426.6 784.2,415.3 788.9,401.1 795.9,387.1 802.9,375.2 814.6,368.2 828.8,360.0 862.5,356.7 862.5,436.5"/>
<polygon fill="#50c80f" points="803.9,436.5 800.6,421.6 802.9,408.1 810.1,396.4 819.3,389.4 828.8,385.9 862.5,384.2 862.5,436.5"/>
</g>
<clipPath id="t11"><rect x="494" y="424" width="212" height="187"/></clipPath>
<g clip-path="url(#t11)" shape-rendering="crispEdges">
<polygon fill="#aaaaff" points="499.0,419.0 499.0,424.0 509.0,429.0 518.9,434.0 531.4,436.5 543.9,440.2 553.9,445.2 558.8,448.9 568.8,450.2 581.3,448.9 593.8,448.9 606.2,447.7 616.2,446.4 623.7,448.9 633.7,451.4 643.6,455.2 653.6,458.9 668.6,461.4 681.1,463.9 691.0,468.9 698.5,473.9 706.0,472.6 718.5,471.4 718.5,419.0"/>
<polygon fill="#5a5aff" points="511.5,419.0 514.0,425.2 523.9,430.2 533.9,432.7 546.4,436.5 555.1,441.5 561.3,446.4 568.8,447.7 581.3,446.4 593.8,446.4 606.2,445.2 616.2,444.0 626.2,446.9 636.2,449.4 646.1,453.4 656.1,456.4 668.6,458.9 681.1,461.4 691.0,465.2 698.5,470.1 706.0,470.1 718.5,468.9 718.5,419.0"/>
<polygon fill="#0000ff" points="528.9,419.0 533.9,426.5 543.9,429.0 556.4,434.0 563.8,439.0 568.8,444.0 581.3,444.0 593.8,442.7 606.2,442.7 616.2,441.5 628.7,445.2 638.7,448.9 648.6,451.4 658.6,455.2 668.6,456.4 681.1,458.9 693.5,463.9 701.0,467.6 706.0,466.4 718.5,465.2 718.5,419.0"/>
<polygon fill="#0032b4" points="553.9,419.0 558.8,426.5 568.8,431.5 578.8,436.5 588.8,437.7 598.8,436.5 608.7,435.2 616.2,436.5 628.7,441.5 638.7,445.2 648.6,448.9 658.6,451.4 671.1,453.9 683.6,456.4 696.0,460.2 706.0,461.4 718.5,461.4 718.5,419.0"/>
<polygon fill="#08705f" points="556.4,419.0 563.8,425.2 573.8,430.2 583.8,432.7 593.8,434.0 603.7,434.0 612.5,431.5 615.0,419.0"/>
<polygon fill="#08705f" points="618.7,419.0 623.7,429.0 633.7,434.0 643.6,432.7 653.6,429.0 666.1,427.7 673.6,424.0 676.1,419.0"/>
<polygon fill="#08705f" points="686.0,419.0 683.6,429.0 691.0,436.5 698.5,441.5 706.0,442.7 718.5,444.0 718.5,419.0"/>
</g>
<clipPath id="t12"><rect x="706" y="424" width="144" height="187"/></clipPath>
<g clip-path="url(#t12)" shape-rendering="crispEdges">
<polygon fill="#aaaaff" points="633.0,419.0 862.5,419.0 862.5,523.8 830.0,518.8 817.6,514.3 807.6,511.3 797.6,507.6 787.6,502.6 777.7,496.3 767.7,490.1 757.7,483.9 747.7,476.4 740.3,473.9 730.3,475.1 720.3,476.4 710.3,472.6 700.4,473.9 690.4,471.4 682.9,466.4 667.9,461.4 653.0,456.4 638.0,451.4 633.0,451.4"/>
<polygon fill="#5a5aff" points="633.0,419.0 862.5,419.0 862.5,513.8 830.0,510.0 817.6,506.3 807.6,505.1 797.6,501.3 787.6,496.3 777.7,490.8 767.7,485.1 757.7,478.9 750.2,472.6 742.8,468.9 732.8,471.4 722.8,472.6 712.8,468.9 702.8,470.1 692.9,467.6 682.9,462.7 667.9,458.9 653.0,453.9 638.0,448.9 633.0,448.9"/>
<polygon fill="#0000ff" points="633.0,419.0 862.5,419.0 862.5,507.6 830.0,503.8 817.6,498.8 807.6,495.1 797.6,490.1 787.6,485.1 777.7,480.1 767.7,475.1 757.7,470.1 750.2,466.4 742.8,465.2 732.8,466.4 720.3,465.2 707.8,463.9 695.4,461.4 682.9,458.9 667.9,455.2 653.0,451.4 638.0,446.4 633.0,446.4"/>
<polygon fill="#0032b4" points="633.0,419.0 862.5,419.0 862.5,503.8 830.0,500.1 825.1,497.6 815.1,492.6 805.1,488.8 795.1,485.1 785.2,480.1 775.2,475.1 765.2,470.1 755.2,466.4 747.7,463.9 742.8,461.4 732.8,461.4 722.8,458.9 710.3,458.9 695.4,457.7 682.9,455.2 667.9,451.4 653.0,448.9 638.0,444.0 633.0,444.0"/>
<polygon fill="#08705f" points="677.9,419.0 682.9,429.0 690.4,436.5 700.4,440.2 712.8,439.0 720.3,434.0 725.3,424.0 727.8,419.0"/>
<polygon fill="#08705f" points="767.7,419.0 760.2,431.5 755.2,441.5 757.7,448.9 767.7,453.9 777.7,458.9 787.6,463.9 797.6,470.1 807.6,475.1 817.6,478.9 830.0,483.9 862.5,488.8 862.5,419.0"/>
<polygon fill="#0032b4" points="777.7,451.9 787.6,455.7 800.1,461.9 812.6,468.1 822.6,470.9 830.0,473.4 830.0,476.9 820.1,474.6 810.1,470.9 797.6,464.7 785.2,458.4 776.4,453.9"/>
<polygon fill="#0aaa14" points="777.7,419.0 782.7,429.0 790.1,435.2 800.1,441.5 810.1,448.9 820.1,455.2 830.0,461.4 862.5,466.4 862.5,419.0"/>
<polygon fill="#50c80f" points="800.1,419.0 805.1,429.0 812.6,436.5 820.1,444.0 830.0,448.9 862.5,453.9 862.5,419.0"/>
<polygon fill="#0aaa14" points="810.1,429.0 817.6,435.2 825.1,441.5 831.3,445.2 831.3,447.7 822.6,443.5 815.1,437.7 808.8,431.5"/>
</g>
<g fill="none" stroke="#000" stroke-linejoin="round" stroke-linecap="round">
<polyline points="252.2,58.5 256.0,65.1 257.9,70.7 259.8,76.4 262.6,82.0 266.4,84.8 272.0,86.7 277.6,89.5 283.3,95.2 288.9,98.9 294.6,102.7 300.2,108.4 305.9,112.1 311.5,114.9 317.2,116.8 320.9,118.7 323.8,117.8 328.5,115.9 334.1,114.0 341.6,111.2 349.2,110.2 356.7,109.3 364.2,109.3 371.8,111.2 379.3,113.1 380.8,112.7" stroke-width="2.5"/>
<polyline points="265.4,58.5 263.5,63.2 257.9,66.0" stroke-width="2.5"/>
<polyline points="277.6,89.2 283.3,83.9 286.1,78.2 287.1,73.5 285.2,66.9 283.3,58.5" stroke-width="2.5"/>
<polyline points="287.1,73.5 294.6,73.5 297.4,75.4 298.4,80.1 300.2,84.8 304.9,84.8 307.8,82.0 311.5,82.9 314.4,78.2 317.2,72.6 317.2,66.9 315.3,61.3 314.4,58.5" stroke-width="2.5"/>
<polyline points="311.5,82.9 310.6,89.5 308.7,95.2 313.4,97.1 318.1,100.8 320.9,105.5 320.0,112.1 320.6,118.1" stroke-width="2.5"/>
<polyline points="369.9,58.5 371.8,65.1 374.6,71.6 371.8,78.2 368.0,84.8 366.1,91.4 368.0,98.9 369.9,106.5 370.8,110.6" stroke-width="2.5"/>
<polyline points="380.0,112.1 387.5,108.4 395.1,105.5 402.6,103.6 410.1,100.8 417.6,98.0 425.2,96.7 432.7,95.7 440.2,95.7 445.9,97.1 450.6,99.9 454.4,103.6 457.2,108.4 460.0,114.0 463.8,117.8 468.5,118.7 474.1,116.8 477.9,114.9 482.6,115.9 488.2,114.9 492.9,114.0 496.7,117.8 500.5,121.5 503.3,125.3 505.2,130.9 505.2,140.0" stroke-width="2.5"/>
<polygon points="383.8,68.8 386.6,66.0 389.4,66.9 390.4,70.7 394.1,69.8 395.1,73.5 398.8,74.5 400.7,71.6 404.5,71.6 405.4,78.2 404.5,87.6 403.5,95.2 400.7,97.1 396.9,94.2 391.3,92.4 389.4,89.5 395.1,90.5 398.8,89.5 396.0,86.7 393.2,84.8 396.9,83.9 398.8,82.0 395.1,80.1 391.3,78.2 394.1,76.4 390.4,73.5 386.6,72.6" fill="#000" stroke-width="1"/>
<polyline points="412.0,99.3 410.1,93.3 408.2,85.8 407.3,78.2 406.4,70.7 405.4,65.1 404.5,58.5" stroke-width="2.5"/>
<polyline points="418.6,98.0 418.6,87.6 418.6,78.2 417.6,68.8 415.8,61.3 414.8,58.5" stroke-width="2.5"/>
<polyline points="429.9,96.1 429.9,87.6 429.9,78.2 429.9,68.8 431.8,66.0 434.6,64.1 436.5,58.5" stroke-width="2.5"/>
<polyline points="492.9,114.0 494.8,108.4 496.7,102.7 502.4,97.1 508.0,91.4 510.8,87.6 515.5,88.6 519.3,92.4 522.1,95.2 524.9,90.5 528.7,85.8 530.6,78.2 534.4,72.6 538.1,68.8 540.0,63.2" stroke-width="2.5"/>
<polyline points="491.4,125.3 492.9,123.8 495.2,124.4 495.8,127.2 494.4,130.0 492.2,130.0 491.1,127.6 491.4,125.3" stroke-width="2.5"/>
<polyline points="500.0,97.1 504.7,92.4 509.4,88.6 515.1,89.5 518.8,94.2 522.6,95.2 525.4,90.5 528.2,83.9 531.1,76.4 534.8,71.6 538.6,67.9 540.5,62.2 543.3,58.5" stroke-width="2.5"/>
<polyline points="549.9,58.5 553.6,64.1 558.4,67.9 563.1,70.7 564.9,76.4 566.8,84.8" stroke-width="2.5"/>
<polyline points="566.8,84.8 572.5,84.8 576.2,82.0 579.1,84.8 584.7,82.9 592.2,79.2 599.8,77.3 604.5,73.5 602.6,68.8 609.2,66.9 617.6,66.9 624.2,64.1 628.0,58.5" stroke-width="2.5"/>
<polyline points="566.8,84.8 562.1,88.6 557.4,94.2 555.5,99.9 557.4,104.6 558.4,112.1 561.2,118.7 564.9,125.3 569.6,130.9 573.4,134.7 574.4,140.4 573.4,146.0" stroke-width="2.5"/>
<polyline points="573.4,146.0 565.9,143.2 556.5,142.2 547.1,142.2 541.4,141.3 533.9,142.2 523.5,142.2 515.1,142.2 505.6,143.2 500.0,144.1" stroke-width="2.5"/>
<polyline points="523.5,142.2 522.6,154.5 511.3,154.5 502.6,154.5" stroke-width="2.5"/>
<polyline points="541.4,141.3 542.4,147.9 542.4,152.6 548.9,150.7 555.5,150.7 555.5,155.4 553.6,161.1 550.8,166.7 551.8,169.5 555.5,170.5 556.5,178.0 556.5,185.5 555.5,191.2" stroke-width="2.5"/>
<polyline points="574.4,140.4 577.2,130.9 579.1,125.3 588.5,125.3 598.8,126.2" stroke-width="2.5"/>
<polyline points="598.8,126.2 599.8,119.6 602.6,114.0 609.2,110.2 614.8,112.1 620.5,115.9 628.0,118.7 635.5,119.6 640.2,120.6 644.9,114.9 650.6,114.9 656.2,113.1 660.0,112.1" stroke-width="2.5"/>
<polyline points="598.8,126.2 598.8,132.8 595.1,139.4 593.2,147.9 592.2,157.3 590.4,164.8 589.4,172.4 584.7,178.0 579.1,183.6 574.4,191.2" stroke-width="2.5"/>
<polyline points="654.4,58.5 653.4,66.9 656.2,68.8 660.0,71.6" stroke-width="2.5"/>
<polyline points="660.0,71.6 662.8,75.4 668.5,77.3 672.2,82.9 676.9,86.7 682.6,90.5 685.4,96.1 689.2,100.8 694.8,104.6 695.8,110.2" stroke-width="2.5"/>
<polyline points="660.0,112.1 665.6,111.2 671.3,109.3 673.2,107.4 676.9,110.2 684.5,111.2 691.1,110.2 695.8,110.2" stroke-width="2.5"/>
<polyline points="695.8,110.2 699.5,114.0 703.3,117.8 708.9,116.8 715.5,116.8 721.2,115.9 724.0,120.6 726.8,124.4 730.6,127.2" stroke-width="2.5"/>
<polyline points="730.6,127.2 735.3,125.3 740.9,126.2 746.6,128.1 752.2,126.2 757.9,126.2 762.6,124.4 766.4,120.6 770.1,116.3" stroke-width="2.5"/>
<polyline points="770.1,116.3 780.5,116.3 788.0,116.3 796.5,116.3 801.2,119.6 806.8,124.4 812.5,126.8 820.0,127.6" stroke-width="2.5"/>
<polyline points="767.3,58.5 766.4,66.9 765.4,73.5 757.9,74.5 755.1,78.2 756.0,82.0 762.6,83.9 766.4,87.6 769.2,92.4 773.9,96.1 776.7,101.8 779.5,106.5 784.2,109.3 787.1,112.1 787.6,116.3" stroke-width="2.5"/>
<polyline points="786.5,117.8 786.1,125.3 788.9,130.9 792.7,134.7 795.5,138.5 794.6,140.0 791.8,136.6 789.9,132.8 790.8,125.3 790.4,117.8" stroke-width="2.5"/>
<polyline points="730.6,127.2 731.2,133.8 731.5,139.4 736.2,140.4 739.1,143.2 737.2,146.9 732.5,151.6 728.7,153.5 725.9,152.6 723.1,156.4 721.2,162.9 720.2,170.5 719.3,178.0 718.4,181.8" stroke-width="2.5"/>
<polyline points="728.1,150.7 732.5,146.0 737.2,142.2 739.1,143.7 735.3,147.9 730.6,153.2 728.1,152.6" stroke-width="1.6"/>
<polyline points="766.4,121.2 769.2,127.2 772.9,132.8 775.8,138.5 776.7,145.1 773.9,150.7 770.1,155.4 766.4,161.1 765.4,163.9" stroke-width="2.5"/>
<polyline points="765.4,163.9 757.9,161.1 752.2,162.9 746.6,164.8 742.8,168.6 741.9,176.1 740.9,183.6 741.9,191.2" stroke-width="2.5"/>
<polyline points="765.4,163.9 768.2,167.6 774.8,167.6 772.9,170.5 768.2,172.4 767.3,176.1 764.5,181.8 762.6,185.5 757.9,191.2" stroke-width="2.5"/>
<polyline points="768.2,175.2 776.7,179.9 784.2,184.6 793.6,190.2" stroke-width="2.5"/>
<polyline points="718.4,181.8 724.0,179.9 727.8,177.1 735.3,176.1 741.9,175.7" stroke-width="2.5"/>
<polyline points="718.4,181.8 715.5,183.6 713.6,187.4 712.7,191.2" stroke-width="2.5"/>
<polyline points="727.8,178.0 730.6,183.6 731.5,191.2" stroke-width="2.5"/>
<polyline points="503.8,191.0 509.4,196.6 515.1,202.3 520.7,207.9 526.4,215.5 530.1,223.0 532.0,230.5 535.8,236.2 538.6,243.7 540.5,251.2 542.4,256.9 541.4,264.4 543.3,271.9 547.1,278.5 548.0,285.1 546.1,292.6 542.4,298.3 536.7,303.9 533.9,309.6 532.0,317.1 530.1,324.6 529.2,332.2" stroke-width="2.5"/>
<polyline points="524.8,191.0 525.6,196.3 530.1,196.6 530.1,205.1 524.5,204.6 519.8,206.1" stroke-width="2.5"/>
<polyline points="528.2,217.4 533.9,214.5 537.6,212.6 542.4,215.5 547.1,214.5 552.7,212.6 555.5,211.7 556.5,217.4 560.2,216.4 565.9,211.7 572.5,205.1 573.4,198.5 573.4,191.0" stroke-width="2.5"/>
<polyline points="531.1,222.1 533.9,219.2 536.7,219.2 535.4,224.9 534.8,229.6 545.2,225.8 548.9,227.7 556.5,227.7 565.9,227.7 577.2,227.7 579.1,232.4 580.9,239.9 584.7,245.6 588.5,250.3 596.0,251.2 607.3,251.2 610.1,246.5 610.1,241.4 620.5,240.3 621.4,243.7 634.6,243.7 634.6,253.1 634.6,262.5 635.5,270.1 639.3,275.7 640.2,284.2 648.7,283.2 658.1,282.9 657.7,292.6 657.2,302.1 648.7,302.4 636.5,303.0 636.5,313.4 636.5,332.2" stroke-width="2.5"/>
<polyline points="713.6,196.6 714.6,206.1 713.6,215.5 715.5,224.9 716.5,234.3 720.2,239.9 724.9,244.6 728.7,249.4 730.6,256.9" stroke-width="2.5"/>
<polyline points="716.5,196.6 718.4,206.1 720.2,215.5 721.2,224.9 722.1,231.5 725.9,236.2 729.6,239.9 731.2,247.5 733.4,255.0 730.6,256.9 735.3,257.8 740.9,261.6 748.5,264.4 756.0,267.2 761.6,268.2 769.2,268.2" stroke-width="2.5"/>
<polyline points="709.9,191.0 711.8,193.8 709.9,194.8 714.6,196.6 722.1,194.8 730.6,192.9 732.5,199.5 728.7,204.2 724.9,209.8 720.6,214.5" stroke-width="2.5"/>
<polyline points="740.9,191.0 744.7,193.8 750.4,192.9 754.1,195.7 757.9,192.9 762.6,191.0" stroke-width="2.5"/>
<polyline points="791.8,191.0 799.3,194.8 806.8,198.5 808.7,204.2 814.4,208.9 820.0,212.6" stroke-width="2.5"/>
<polyline points="730.6,252.2 722.1,254.1 710.8,256.9 708.9,263.5 706.7,268.2 707.1,275.7 706.1,283.2 705.2,290.8 708.0,296.4 712.7,299.2 720.2,295.5 721.2,302.1 720.2,307.7 714.6,307.7 710.8,305.8 707.1,302.1 703.3,298.3 697.6,295.5 694.8,290.8 692.0,288.9 688.2,291.7 682.6,290.8 675.1,288.9 673.2,284.2 667.5,286.1 660.0,283.2" stroke-width="2.5"/>
<polyline points="759.8,269.1 762.6,275.7 764.5,280.4 759.8,284.2 757.9,290.8 757.9,298.3 754.1,303.9 752.2,309.6 754.1,315.2 759.8,317.1 761.6,320.9 769.2,319.0 772.9,319.9" stroke-width="2.5"/>
<polyline points="769.2,268.2 772.0,273.8 773.9,281.4 775.2,288.9 773.9,296.4 772.9,303.9 774.8,311.5 778.6,315.2 782.4,319.0 786.1,322.8 788.0,332.2" stroke-width="2.5"/>
<polyline points="765.4,270.1 768.2,276.6 769.2,285.1 768.8,292.6 766.4,298.3 767.3,305.8 769.2,313.4 771.1,319.0 772.9,326.5 772.9,332.2" stroke-width="2.5"/>
<polyline points="775.2,288.9 780.5,287.9 786.1,287.0 789.9,288.9 795.5,288.9 803.1,287.9 808.7,284.2 814.4,283.2 820.0,282.3" stroke-width="2.5"/>
<polyline points="754.1,315.2 746.6,316.2 739.1,319.0 731.5,321.8 724.0,324.6 725.9,332.2" stroke-width="2.5"/>
<polyline points="528.2,332.0 525.4,337.6 524.5,347.1 525.4,356.5 528.2,364.0 533.9,373.4 539.5,382.8 545.2,392.2 550.8,401.6 555.5,409.2 554.6,416.7 555.5,424.2 558.4,431.8 560.2,441.2 562.1,450.6 564.0,458.1 568.7,465.6 575.3,472.2" stroke-width="2.5"/>
<polyline points="525.4,349.9 532.0,348.9 539.5,348.0 547.1,349.9 554.6,350.8 565.9,350.3 579.1,350.4 596.0,350.8 599.8,354.6 605.4,356.8 616.7,356.8 626.1,356.5 635.5,354.6 646.8,351.8 660.0,350.8" stroke-width="2.5"/>
<polyline points="626.1,357.4 625.7,369.6 625.7,388.5 625.2,399.2 615.2,399.8 614.8,416.7 614.8,435.5 615.2,454.4 615.8,473.2" stroke-width="2.5"/>
<polyline points="636.5,332.0 637.4,339.5 643.1,346.1 648.7,350.8 652.5,360.2 655.3,362.1 660.0,358.4" stroke-width="2.5"/>
<polyline points="617.6,433.6 622.4,436.5 624.2,443.1 622.4,449.6 623.3,452.5 629.9,451.5 635.5,451.5 640.2,448.7 644.0,444.0 645.9,438.4 650.6,436.5 656.2,438.4 660.0,439.3" stroke-width="2.5"/>
<polyline points="575.3,472.2 580.9,468.5 585.6,467.5 588.5,472.2" stroke-width="2.5"/>
<polyline points="660.0,351.8 665.6,352.7 671.3,356.5 678.8,357.4 686.4,357.4 692.0,353.6" stroke-width="2.5"/>
<polyline points="692.0,353.6 695.8,348.9 701.4,345.2 708.0,343.3" stroke-width="3.0"/>
<polyline points="708.0,343.3 709.9,337.6 713.6,333.9 720.2,332.9 726.8,332.9" stroke-width="2.5"/>
<polyline points="726.8,332.9 735.3,335.8 742.8,338.6 750.4,341.4 754.1,347.1 755.1,354.6 756.0,360.2 752.2,365.9 753.2,372.5 755.1,377.2 753.2,382.8 749.4,388.5 746.6,394.1 742.8,397.9 737.2,404.5" stroke-width="2.5"/>
<polyline points="671.3,356.5 674.1,362.1 676.9,368.7 682.6,373.4 690.1,377.2 695.8,382.8 698.6,387.5 699.5,393.2 703.3,396.9 708.9,399.8 713.6,402.0 722.1,402.6 729.6,404.5 737.2,404.5" stroke-width="2.5"/>
<polyline points="713.6,402.0 707.1,405.4 699.5,411.1 692.0,417.6 687.3,424.2 682.6,429.9 677.9,432.7 675.1,439.3 667.5,441.2 660.0,440.2" stroke-width="2.5"/>
<polyline points="737.2,404.5 739.1,411.1 741.9,417.6 743.8,424.2 745.1,431.8 745.6,441.2 745.6,448.7" stroke-width="2.5"/>
<polyline points="745.6,444.9 742.8,443.1 739.1,441.2 735.3,441.2 732.5,444.9 731.2,449.6 733.4,454.4 738.1,457.2 743.8,457.2 745.6,452.5" stroke-width="2.5"/>
<polyline points="747.5,444.9 752.2,445.9 753.2,452.5 752.2,460.0 750.4,467.5 748.5,473.2" stroke-width="2.5"/>
<polyline points="831.3,344.8 820.0,348.9 810.6,351.8 803.1,355.5 795.5,361.2 789.9,366.8 782.4,372.5 774.8,379.1 772.0,383.8 773.9,388.5 776.7,394.1 779.5,401.6 780.5,409.2 780.5,418.6 779.5,424.2 775.8,429.9 769.2,432.7 762.6,435.5 756.0,438.4 752.2,441.2 749.4,444.9" stroke-width="2.5"/>
<polyline points="769.2,332.0 770.1,336.7 774.8,341.4 777.6,347.1 779.5,345.2 778.6,339.5 780.5,335.8 785.2,333.9 784.2,332.0" stroke-width="2.5"/>
<polyline points="555.1,424.0 558.8,434.0 561.3,444.0 563.8,456.4 568.8,463.9 577.6,472.6 578.8,473.9" stroke-width="2.5"/>
<polyline points="577.6,472.6 583.8,468.9 588.8,472.6 593.8,475.1 603.7,476.4 611.2,473.9 615.7,471.4" stroke-width="2.5"/>
<polyline points="615.7,424.0 615.7,448.9 615.7,471.4" stroke-width="2.5"/>
<polyline points="578.8,473.9 581.3,483.9 586.3,493.8 591.3,501.3 596.3,507.6 596.3,516.3 592.5,518.8 593.8,523.8 597.5,528.8 597.5,533.7 603.7,535.0 608.7,538.2 616.2,538.2 623.7,535.0 631.2,535.0 638.7,532.5 646.1,531.2 653.6,532.5 661.1,531.2 668.6,531.7 677.3,530.0 678.6,527.5 688.5,526.3 698.5,521.3 706.0,516.3" stroke-width="2.5"/>
<polyline points="616.2,434.0 622.4,437.7 623.7,444.0 622.4,451.4 633.7,451.4 641.2,447.7 647.4,439.0 653.6,436.5 663.6,440.2 673.6,440.2 678.6,436.5 679.8,430.2 687.3,426.5 688.5,424.0" stroke-width="2.5"/>
<polyline points="690.4,483.9 697.9,477.6 705.3,472.6 711.6,473.9 716.6,480.1 715.3,486.4 709.1,488.8 704.1,490.1 700.4,495.1 694.1,491.3 690.4,483.9" stroke-width="2.5"/>
<polyline points="697.9,520.0 707.8,512.5 717.8,503.8 725.3,496.3 731.5,486.4 737.8,478.9 745.2,473.9 749.0,466.4 751.5,456.4 753.2,447.7" stroke-width="2.5"/>
<polyline points="747.7,447.7 745.2,442.7 737.8,440.2 732.8,444.0 730.8,450.2 734.0,455.2 740.3,457.7 746.5,456.4 747.7,451.4" stroke-width="2.5"/>
<polyline points="745.2,424.0 746.5,434.0 747.2,446.4" stroke-width="2.5"/>
<polyline points="781.4,424.0 777.7,427.7 767.7,431.5 757.7,436.5 751.5,442.7 753.2,447.7" stroke-width="2.5"/>
<polyline points="819.0,213.0 823.3,215.9" stroke-width="2.5"/>
<polyline points="830.2,204.7 827.6,210.7 823.3,215.9 821.6,222.0 819.0,227.2 818.1,231.5 819.9,235.8 824.2,238.4 826.8,241.0 824.2,244.5 823.3,249.7 823.0,254.9 825.0,260.1 826.8,265.3 830.2,270.5" stroke-width="2.5"/>
<polygon points="822.5,225.4 825.0,228.0 826.8,233.2 824.2,232.4 822.5,228.9" fill="#000" stroke-width="1"/>
<polyline points="818.1,283.5 825.0,283.5 830.6,284.4" stroke-width="2.5"/>
<polyline points="819.0,127.3 824.0,128.0 831.0,128.5" stroke-width="2.5"/>
<polyline points="246.0,243.6 248.1,249.4 254.2,249.5 249.3,253.3 251.1,259.2 246.0,255.7 240.9,259.2 242.7,253.3 237.8,249.5 243.9,249.4 246.0,243.6" stroke-width="2.6"/>
<polyline points="339.0,329.0 341.1,334.8 347.2,334.9 342.3,338.7 344.1,344.6 339.0,341.1 333.9,344.6 335.7,338.7 330.8,334.9 336.9,334.8 339.0,329.0" stroke-width="2.6"/>
<polyline points="505.2,140.0 504.9,142.7 503.3,146.7 500.7,151.3 502.7,154.0 501.3,158.7 500.7,164.0 498.7,168.0 496.0,172.0 494.7,174.0 496.7,177.3 498.0,181.3 500.7,186.7 503.8,191.0" stroke-width="2.5"/>
<polyline points="555.3,191.2 551.8,192.4 544.7,190.0 540.0,189.4 536.5,185.9 533.5,185.9 534.1,189.4 525.3,191.8" stroke-width="2.5"/>
<polygon points="477.2,146.9 478.7,145.2 480.3,146.9 478.7,148.7" fill="#000" stroke-width="1"/>
<polyline points="470.0,160.2 472.4,159.8 473.6,161.8 472.0,163.6 469.8,162.8 470.0,160.2" stroke-width="1.6"/>
<polygon points="459.8,180.2 460.8,179.2 461.8,180.2 460.8,181.2" fill="#000" stroke-width="1"/>
</g>
</g>
<g shape-rendering="crispEdges" stroke="#000" fill="none">
<rect x="78.0" y="58.0" width="752.5" height="537.0" stroke-width="3.6"/>
<line x1="78.0" y1="58.0" x2="78.0" y2="37.5" stroke-width="3.2"/>
<line x1="78.0" y1="595.0" x2="78.0" y2="615.5" stroke-width="3.2"/>
<line x1="185.5" y1="58.0" x2="185.5" y2="47.5" stroke-width="2.0"/>
<line x1="185.5" y1="595.0" x2="185.5" y2="605.5" stroke-width="2.0"/>
<line x1="293.0" y1="58.0" x2="293.0" y2="47.5" stroke-width="2.0"/>
<line x1="293.0" y1="595.0" x2="293.0" y2="605.5" stroke-width="2.0"/>
<line x1="400.5" y1="58.0" x2="400.5" y2="37.5" stroke-width="3.2"/>
<line x1="400.5" y1="595.0" x2="400.5" y2="615.5" stroke-width="3.2"/>
<line x1="508.0" y1="58.0" x2="508.0" y2="47.5" stroke-width="2.0"/>
<line x1="508.0" y1="595.0" x2="508.0" y2="605.5" stroke-width="2.0"/>
<line x1="615.5" y1="58.0" x2="615.5" y2="47.5" stroke-width="2.0"/>
<line x1="615.5" y1="595.0" x2="615.5" y2="605.5" stroke-width="2.0"/>
<line x1="723.0" y1="58.0" x2="723.0" y2="37.5" stroke-width="3.2"/>
<line x1="723.0" y1="595.0" x2="723.0" y2="615.5" stroke-width="3.2"/>
<line x1="830.5" y1="58.0" x2="830.5" y2="47.5" stroke-width="2.0"/>
<line x1="830.5" y1="595.0" x2="830.5" y2="605.5" stroke-width="2.0"/>
<line x1="78.0" y1="58.0" x2="67.5" y2="58.0" stroke-width="2.0"/>
<line x1="830.5" y1="58.0" x2="841.0" y2="58.0" stroke-width="2.0"/>
<line x1="78.0" y1="111.7" x2="67.5" y2="111.7" stroke-width="2.0"/>
<line x1="830.5" y1="111.7" x2="841.0" y2="111.7" stroke-width="2.0"/>
<line x1="78.0" y1="165.4" x2="57.5" y2="165.4" stroke-width="3.2"/>
<line x1="830.5" y1="165.4" x2="851.0" y2="165.4" stroke-width="3.2"/>
<line x1="78.0" y1="219.1" x2="67.5" y2="219.1" stroke-width="2.0"/>
<line x1="830.5" y1="219.1" x2="841.0" y2="219.1" stroke-width="2.0"/>
<line x1="78.0" y1="272.8" x2="67.5" y2="272.8" stroke-width="2.0"/>
<line x1="830.5" y1="272.8" x2="841.0" y2="272.8" stroke-width="2.0"/>
<line x1="78.0" y1="326.5" x2="67.5" y2="326.5" stroke-width="2.0"/>
<line x1="830.5" y1="326.5" x2="841.0" y2="326.5" stroke-width="2.0"/>
<line x1="78.0" y1="380.2" x2="57.5" y2="380.2" stroke-width="3.2"/>
<line x1="830.5" y1="380.2" x2="851.0" y2="380.2" stroke-width="3.2"/>
<line x1="78.0" y1="433.9" x2="67.5" y2="433.9" stroke-width="2.0"/>
<line x1="830.5" y1="433.9" x2="841.0" y2="433.9" stroke-width="2.0"/>
<line x1="78.0" y1="487.6" x2="67.5" y2="487.6" stroke-width="2.0"/>
<line x1="830.5" y1="487.6" x2="841.0" y2="487.6" stroke-width="2.0"/>
<line x1="78.0" y1="541.3" x2="67.5" y2="541.3" stroke-width="2.0"/>
<line x1="830.5" y1="541.3" x2="841.0" y2="541.3" stroke-width="2.0"/>
<line x1="78.0" y1="595.0" x2="57.5" y2="595.0" stroke-width="3.2"/>
<line x1="830.5" y1="595.0" x2="851.0" y2="595.0" stroke-width="3.2"/>
</g>
<g shape-rendering="crispEdges" stroke="#000" stroke-width="2">
<rect x="123.00" y="668.0" width="50.92" height="47.0" fill="#ffffff"/>
<rect x="173.92" y="668.0" width="50.92" height="47.0" fill="#aaaaff"/>
<rect x="224.84" y="668.0" width="50.92" height="47.0" fill="#5a5aff"/>
<rect x="275.76" y="668.0" width="50.92" height="47.0" fill="#0000ff"/>
<rect x="326.68" y="668.0" width="50.92" height="47.0" fill="#0032b4"/>
<rect x="377.60" y="668.0" width="50.92" height="47.0" fill="#08705f"/>
<rect x="428.52" y="668.0" width="50.92" height="47.0" fill="#0aaa14"/>
<rect x="479.44" y="668.0" width="50.92" height="47.0" fill="#50c80f"/>
<rect x="530.36" y="668.0" width="50.92" height="47.0" fill="#a5e10a"/>
<rect x="581.28" y="668.0" width="50.92" height="47.0" fill="#f5fa05"/>
<rect x="632.20" y="668.0" width="50.92" height="47.0" fill="#ffb400"/>
<rect x="683.12" y="668.0" width="50.92" height="47.0" fill="#ff5f00"/>
<rect x="734.04" y="668.0" width="50.92" height="47.0" fill="#ff0a00"/>
</g>
<g font-family="'Liberation Sans', Arial, Helvetica, sans-serif" fill="#000" stroke="#000" stroke-width="1.0" stroke-linejoin="round">
<text transform="translate(76.6,24.8) scale(1,1.09)" font-size="30.6">CO col BB 19 Sep</text>
<text x="82" y="49.6" font-size="24.3">(1E18*molec/cm2)</text>
<text transform="translate(830.6,26.0) scale(1,1.08)" font-size="30.6" text-anchor="end">2018-09-29_09</text>
<text transform="translate(42.5,174.6) scale(1,1.07)" font-size="24.2" text-anchor="end">0</text>
<text transform="translate(42.5,389.4) scale(1,1.07)" font-size="24.2" text-anchor="end">20S</text>
<text transform="translate(42.5,604.2) scale(1,1.07)" font-size="24.2" text-anchor="end">40S</text>
<text transform="translate(77.4,649.6) scale(1,1.07)" font-size="24.2" text-anchor="middle">30W</text>
<text transform="translate(399.9,649.6) scale(1,1.07)" font-size="24.2" text-anchor="middle">0</text>
<text transform="translate(722.4,649.6) scale(1,1.07)" font-size="24.2" text-anchor="middle">30E</text>
<text transform="translate(224.5,748.2) scale(1,1.07)" font-size="24.2" text-anchor="middle">0.002</text>
<text transform="translate(326.4,748.2) scale(1,1.07)" font-size="24.2" text-anchor="middle">0.01</text>
<text transform="translate(428.2,748.2) scale(1,1.07)" font-size="24.2" text-anchor="middle">0.05</text>
<text transform="translate(530.1,748.2) scale(1,1.07)" font-size="24.2" text-anchor="middle">0.2</text>
<text transform="translate(631.9,748.2) scale(1,1.07)" font-size="24.2" text-anchor="middle">1</text>
<text transform="translate(733.7,748.2) scale(1,1.07)" font-size="24.2" text-anchor="middle">5</text>
</g>
</svg>
</body>
</html>
